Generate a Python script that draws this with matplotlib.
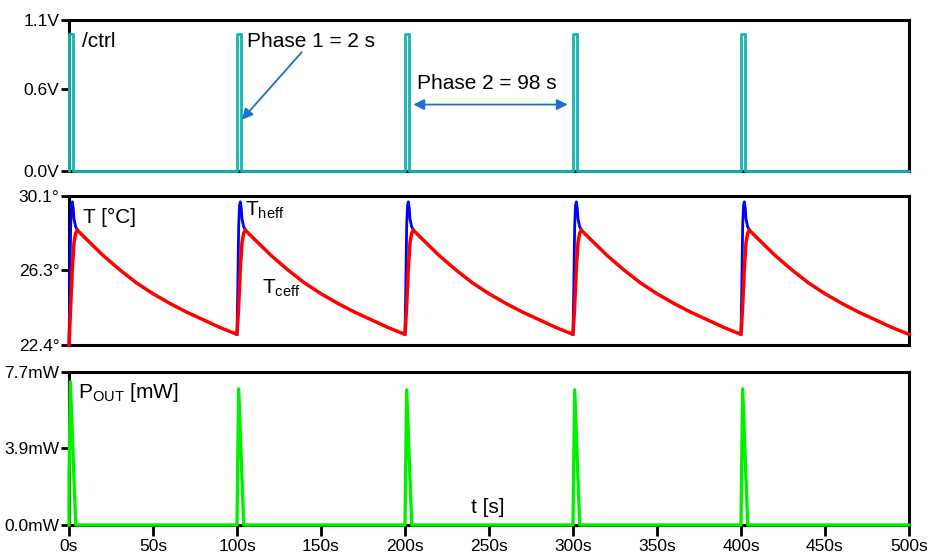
import numpy as np
import matplotlib
matplotlib.use("Agg")
import matplotlib.pyplot as plt
from matplotlib import font_manager

# --- data ------------------------------------------------------------------
CYCLE_STARTS = [0, 100, 200, 300, 400]      # s
T_END = 500                                 # s

# /ctrl pulse (Phase 1)
PULSE_WIDTH = 2.2                           # s
PULSE_HIGH = 1.0                            # V

# temperature profile of one cycle (offset in s, value in degC)
HOT_OFFSETS = [0, 0.5, 1.0, 1.5, 2.0, 2.5, 3.0, 4.0, 5.0]
HOT_VALUES = [22.95, 25.6, 28.6, 29.6, 29.8, 29.5, 28.9, 28.5, 28.35]
COLD_OFFSETS = [0, 1, 2, 3, 4, 5, 10, 20, 30, 40, 50, 60, 70, 80, 90, 100]
COLD_VALUES = [22.95, 24.4, 26.4, 27.7, 28.2, 28.33, 27.9, 27.05, 26.3,
               25.62, 25.05, 24.55, 24.1, 23.7, 23.3, 22.95]
FIRST_START_TEMP = 22.4                     # very first sample at t = 0

# output power spikes
P_OFFSETS = [0, 1.0, 4.0]                   # s
P_PEAKS = [7.2, 6.85, 6.8, 6.8, 6.85]       # mW
P_FIRST_STEP = 2.4                          # mW, first sample at t = 0

# axis ticks
CTRL_TICKS = [0.0, 0.6, 1.1]
CTRL_LABELS = ["0.0V", "0.6V", "1.1V"]
TEMP_TICKS = [22.4, 26.3, 30.1]
TEMP_LABELS = ["22.4°", "26.3°", "30.1°"]
P_TICKS = [0.0, 3.9, 7.7]
P_LABELS = ["0.0mW", "3.9mW", "7.7mW"]
X_TICKS = list(range(0, 501, 50))
X_LABELS = [f"{v}s" for v in X_TICKS]

# --- styling -----------------------------------------------------------------
names = {f.name for f in font_manager.fontManager.ttflist}
TICK_FONT = "Liberation Sans Narrow" if "Liberation Sans Narrow" in names else "Liberation Sans"
plt.rcParams["font.family"] = ["Liberation Sans", "DejaVu Sans"]
plt.rcParams["mathtext.fontset"] = "custom"
plt.rcParams["mathtext.rm"] = "Liberation Sans"

CYAN = "#17b3b3"
BLUE = "#0000ff"
RED = "#ff0000"
GREEN = "#00f000"
ARROW = "#1a6fd0"

# --- build series from the read values --------------------------------------
t_ctrl, v_ctrl = [0.0], [0.0]
for s in CYCLE_STARTS:
    t_ctrl += [s, s, s + PULSE_WIDTH, s + PULSE_WIDTH]
    v_ctrl += [0.0, PULSE_HIGH, PULSE_HIGH, 0.0]
t_ctrl.append(T_END)
v_ctrl.append(0.0)

t_hot, v_hot, t_cold, v_cold = [], [], [], []
for i, s in enumerate(CYCLE_STARTS):
    hv = list(HOT_VALUES)
    cv = list(COLD_VALUES)
    if i == 0:
        hv[0] = FIRST_START_TEMP
        cv[0] = FIRST_START_TEMP
    t_hot += [s + o for o in HOT_OFFSETS] + [np.nan]
    v_hot += hv + [np.nan]
    t_cold += [s + o for o in COLD_OFFSETS]
    v_cold += cv

t_p, v_p = [], []
for i, s in enumerate(CYCLE_STARTS):
    if i == 0:
        t_p += [s, s + 0.05, s + 0.8, s + P_OFFSETS[2]]
        v_p += [0.0, P_FIRST_STEP, P_PEAKS[i], 0.0]
    else:
        t_p += [s + o for o in P_OFFSETS]
        v_p += [0.0, P_PEAKS[i], 0.0]
t_p.append(T_END)
v_p.append(0.0)

# --- figure -------------------------------------------------------------------
fig = plt.figure(figsize=(9.27, 5.53), dpi=100)
W, H = 927.0, 553.0
x0, x1 = 69 / W, 909 / W


def panel(top_px, bottom_px):
    ax = fig.add_axes([x0, 1 - bottom_px / H, x1 - x0, (bottom_px - top_px) / H])
    for sp in ax.spines.values():
        sp.set_color("black")
        sp.set_linewidth(2.2)
    ax.set_xlim(0, T_END)
    ax.tick_params(axis="y", direction="out", length=6, width=2, pad=1,
                   labelsize=12.5, colors="black")
    ax.tick_params(axis="x", direction="out", length=8, width=2, pad=2,
                   labelsize=12.5)
    ax.set_xticks(X_TICKS)
    return ax


ax1 = panel(20, 171)
ax2 = panel(196, 345)
ax3 = panel(372, 525)

# /ctrl
ax1.plot(t_ctrl, v_ctrl, color=CYAN, lw=2.0, solid_joinstyle="round",
         solid_capstyle="round", clip_on=False, zorder=3)
ax1.set_ylim(0, 1.1)
ax1.set_yticks(CTRL_TICKS, CTRL_LABELS, fontfamily=TICK_FONT)
ax1.tick_params(axis="x", length=0, labelbottom=False)
ax1.text(7.6, 0.90, "/ctrl", fontsize=15, va="baseline")
ax1.text(106, 0.90, "Phase 1 = 2 s", fontsize=15, va="baseline")
ax1.annotate("", xy=(102.9, 0.374), xytext=(138.5, 0.865),
             arrowprops=dict(arrowstyle="-|>", color=ARROW, lw=1.3,
                             mutation_scale=16, shrinkA=0, shrinkB=0))
ax1.text(207.2, 0.594, "Phase 2 = 98 s", fontsize=15, va="baseline")
ax1.annotate("", xy=(296.8, 0.484), xytext=(205.0, 0.484),
             arrowprops=dict(arrowstyle="<|-|>", color=ARROW, lw=1.3,
                             mutation_scale=16, shrinkA=0, shrinkB=0))

# temperatures
ax2.plot(t_hot, v_hot, color=BLUE, lw=2.0, clip_on=False, zorder=3)
ax2.plot(t_cold, v_cold, color=RED, lw=2.5, clip_on=False, zorder=4)
ax2.set_ylim(22.4, 30.1)
ax2.set_yticks(TEMP_TICKS, TEMP_LABELS, fontfamily=TICK_FONT)
ax2.tick_params(axis="x", length=0, labelbottom=False)
ax2.text(8.1, 28.71, "T [°C]", fontsize=15, va="baseline")
ax2.text(104.9, 29.06, r"$\mathrm{T_{heff}}$", fontsize=15, va="baseline")
ax2.text(114.8, 25.07, r"$\mathrm{T_{ceff}}$", fontsize=15, va="baseline")

# output power
ax3.plot(t_p, v_p, color=GREEN, lw=2.4, clip_on=False, zorder=3)
ax3.set_ylim(0, 7.7)
ax3.set_yticks(P_TICKS, P_LABELS, fontfamily=TICK_FONT)
ax3.set_xticks(X_TICKS, X_LABELS, fontfamily=TICK_FONT)
ax3.text(5.5, 6.38, r"$\mathrm{P_{OUT}}$ [mW]", fontsize=15, va="baseline")
ax3.text(239.4, 0.60, "t [s]", fontsize=15, va="baseline")

fig.savefig("out.png", dpi=100)
